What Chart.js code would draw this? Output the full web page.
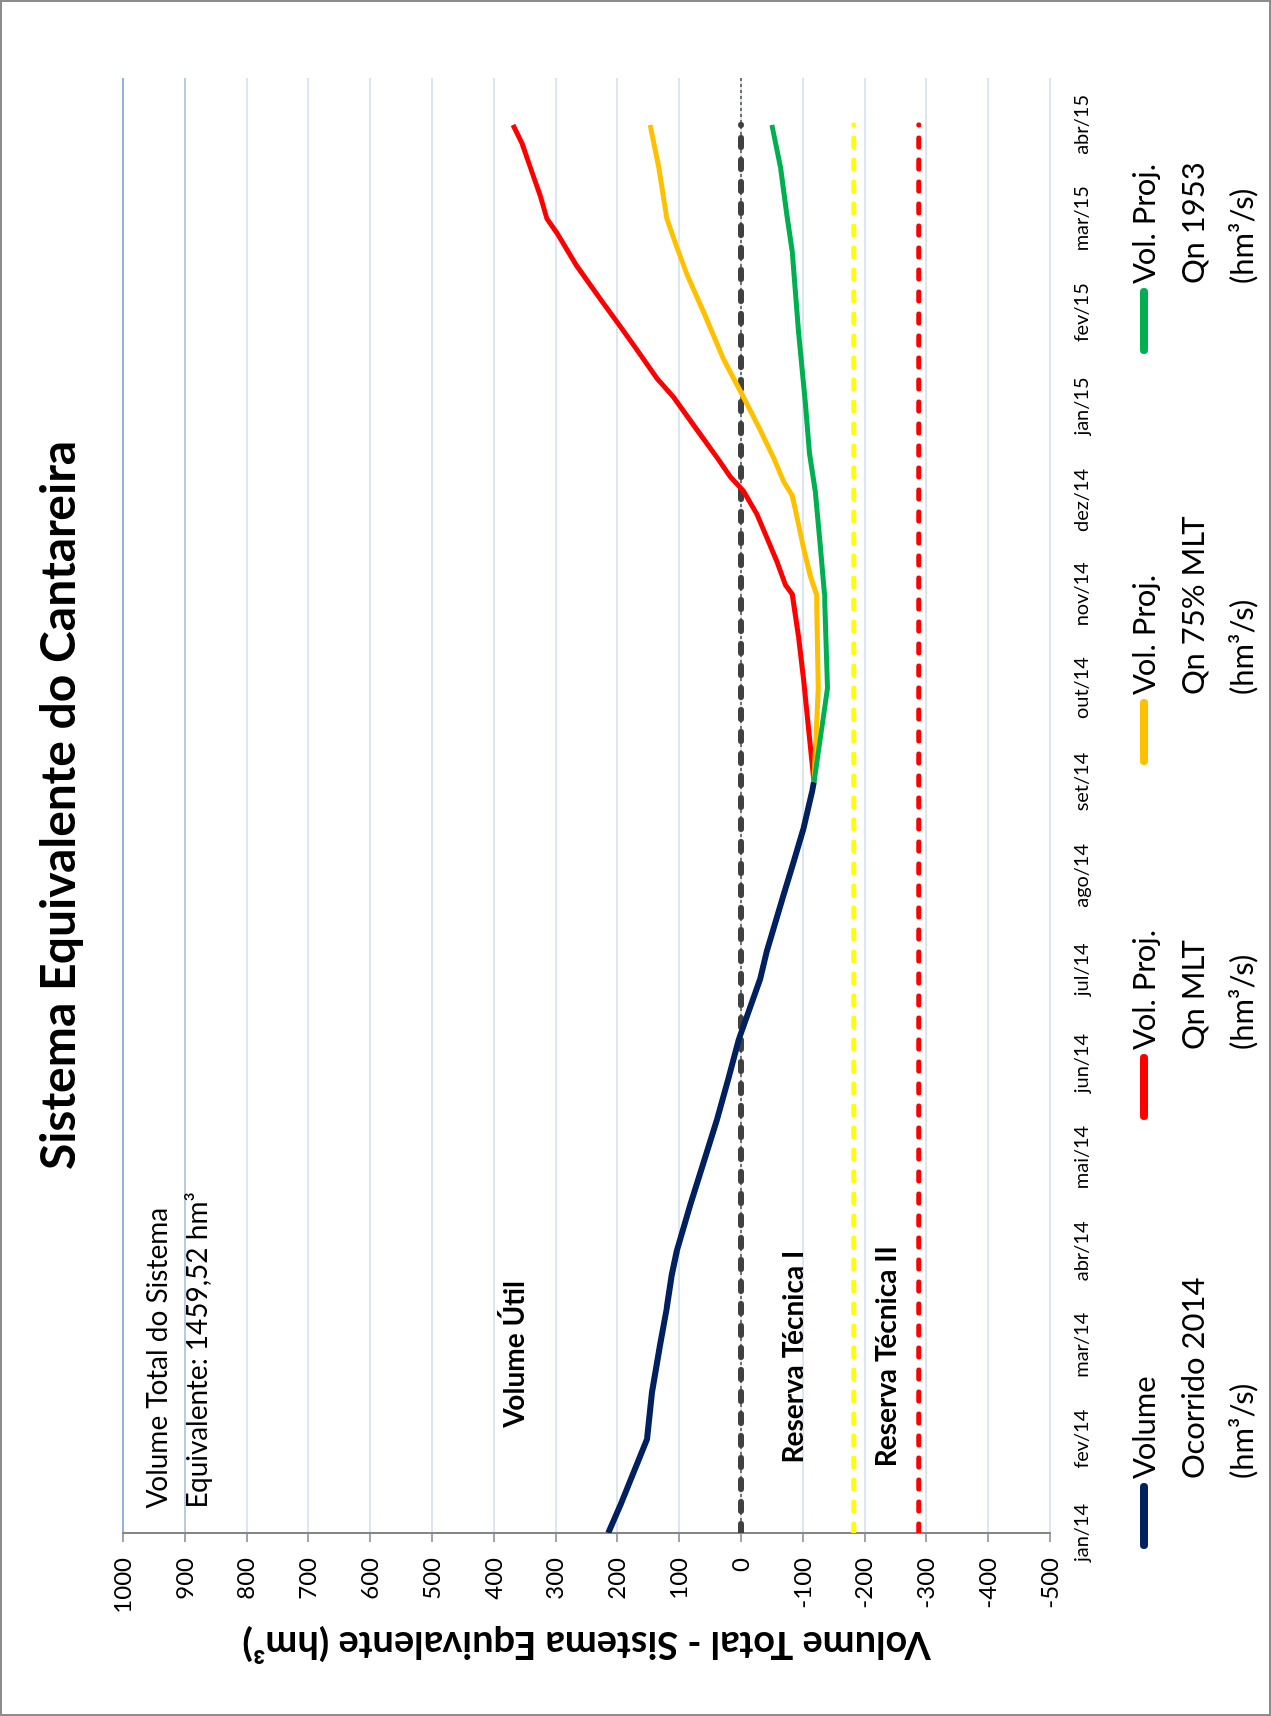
<!DOCTYPE html>
<html lang="pt-BR">
<head>
<meta charset="utf-8">
<title>Sistema Equivalente do Cantareira</title>
<script src="https://cdn.jsdelivr.net/npm/chart.js@4.4.1/dist/chart.umd.min.js"></script>
<style>
    html, body { margin: 0; padding: 0; background: #fff; }
    body { width: 1271px; height: 1716px; overflow: hidden; position: relative; }
    /* o grafico e montado "deitado" e girado 90 graus, como no original */
    #quadro {
        position: absolute; left: 0; top: 0;
        width: 1716px; height: 1271px;
        transform-origin: 0 0;
        transform: translate(0, 1716px) rotate(-90deg);
        background: #fff;
    }
    #grafico { position: absolute; left: 0; top: 0; }
    #borda { position: absolute; left: 0; top: 0; right: 0; bottom: 0; border: 2px solid #8c8c8c; pointer-events: none; }
    .item { position: absolute; top: 1119px; font-family: Lato, "Open Sans", sans-serif; font-size: 31px; line-height: 49px; color: #000; }
    .marca { position: absolute; left: 0; top: 21px; width: 66px; height: 8px; border-radius: 4px; }
    .texto { position: absolute; left: 70px; top: 0; white-space: nowrap; }
</style>
</head>
<body>
<div id="quadro">
    <canvas id="grafico" width="1716" height="1271"></canvas>
    <div id="legenda"></div>
    <div id="borda"></div>
</div>

<script>
// --- Dados ---
const meses = ['jan/14', 'fev/14', 'mar/14', 'abr/14', 'mai/14', 'jun/14', 'jul/14', 'ago/14',
    'set/14', 'out/14', 'nov/14', 'dez/14', 'jan/15', 'fev/15', 'mar/15', 'abr/15'];

// posicao em meses contados a partir de jan/14 e volume em hm3
const ocorridoMes = [0, 0.3, 1, 1.5, 2, 2.4, 2.75, 3, 3.5, 4, 4.4, 4.85, 5.25, 5.4, 5.9, 6.2, 6.8, 7.15, 7.5, 7.9, 8];
const ocorridoVol = [215, 195, 152, 144, 131, 120, 112, 104, 82, 58, 39, 20, 4, -4, -31, -42, -69, -85, -101, -115, -118];

const mltMes = [8, 8.6, 9.1, 9.55, 10, 10.1, 10.35, 10.6, 10.85, 11.1, 11.25, 11.45, 11.75, 12.1, 12.3, 12.6, 12.85, 13.15, 13.5, 13.85, 14, 14.25, 14.55, 14.8, 15];
const mltVol = [-118, -109, -101, -93, -83, -72, -58, -42, -26, -4, 17, 38, 71, 109, 136, 168, 195, 228, 266, 298, 314, 325, 341, 354, 369];

const mlt75Mes = [8, 9, 10, 10.2, 10.5, 10.9, 11.05, 11.2, 11.45, 11.75, 12.1, 12.5, 13, 13.4, 13.7, 14, 14.55, 15];
const mlt75Vol = [-118, -125, -122, -112, -101, -88, -83, -69, -53, -31, -4, 28, 60, 87, 104, 120, 133, 147];

const qn1953Mes = [8, 8.45, 9, 10, 10.55, 11.1, 11.5, 12.05, 12.8, 13.65, 14.05, 14.55, 15];
const qn1953Vol = [-118, -128, -140, -135, -128, -120, -111, -104, -93, -83, -74, -64, -50];

const limiteVolumeUtil = 0;
const reservaTecnica1 = -182.5;
const reservaTecnica2 = -287.5;

const rotulosLegenda = [
    ['Volume', 'Ocorrido 2014', '(hm³/s)'],
    ['Vol. Proj.', 'Qn MLT', '(hm³/s)'],
    ['Vol. Proj.', 'Qn 75% MLT', '(hm³/s)'],
    ['Vol. Proj.', 'Qn 1953', '(hm³/s)']
];

// --- Montagem ---
function pontos(xs, ys) {
    return xs.map((x, i) => ({ x: x, y: ys[i] }));
}
function horizontal(valor, fim) {
    return pontos([0, fim], [valor, valor]);
}

const fonte = 'Lato, "Open Sans", sans-serif';
const tracejado = [9, 13];

const datasets = [
    { label: rotulosLegenda[3].join(' '), data: pontos(qn1953Mes, qn1953Vol), borderColor: '#00b050', borderWidth: 5, order: 1 },
    { label: rotulosLegenda[2].join(' '), data: pontos(mlt75Mes, mlt75Vol), borderColor: '#ffc000', borderWidth: 5, order: 2 },
    { label: rotulosLegenda[1].join(' '), data: pontos(mltMes, mltVol), borderColor: '#ff0000', borderWidth: 5, order: 3 },
    { label: rotulosLegenda[0].join(' '), data: pontos(ocorridoMes, ocorridoVol), borderColor: '#002060', borderWidth: 6, order: 4 },
    { label: 'zero', data: horizontal(limiteVolumeUtil, 15), borderColor: '#404040', borderWidth: 6, borderDash: tracejado, borderCapStyle: 'round', order: 5 },
    { label: 'rt1', data: horizontal(reservaTecnica1, 15), borderColor: '#ffff00', borderWidth: 5, borderDash: tracejado, borderCapStyle: 'round', order: 6 },
    { label: 'rt2', data: horizontal(reservaTecnica2, 15), borderColor: '#ff0000', borderWidth: 5, borderDash: tracejado, borderCapStyle: 'round', order: 7 },
    { label: 'eixo', data: horizontal(0, 15.5), borderColor: '#000000', borderWidth: 1, borderDash: [3, 3], order: 8 }
];
datasets.forEach(d => { d.pointRadius = 0; d.fill = false; d.tension = 0; });

// titulo centrado sobre a area do grafico e textos internos
const textosPlugin = {
    id: 'textos',
    afterDraw(chart, args, opts) {
        const c = chart.ctx;
        const area = chart.chartArea;
        const x = chart.scales.x;
        const y = chart.scales.y;
        c.save();
        c.fillStyle = '#000';
        c.textBaseline = 'middle';
        c.textAlign = 'center';
        c.font = 'bold 48px ' + fonte;
        c.fillText(opts.titulo, (area.left + area.right) / 2, 60);
        c.textAlign = 'left';
        opts.notas.forEach(n => {
            c.font = (n.negrito ? 'bold ' : '') + n.tamanho + 'px ' + fonte;
            c.fillText(n.texto, x.getPixelForValue(n.mes), y.getPixelForValue(n.valor));
        });
        c.restore();
    }
};

const larguraEixoY = 167;

new Chart(document.getElementById('grafico').getContext('2d'), {
    type: 'line',
    data: { datasets: datasets },
    plugins: [textosPlugin],
    options: {
        responsive: false,
        animation: false,
        devicePixelRatio: 1,
        layout: { padding: { left: 16, top: 123, right: 78, bottom: 161 } },
        plugins: {
            legend: { display: false },
            tooltip: { enabled: false },
            textos: {
                titulo: 'Sistema Equivalente do Cantareira',
                notas: [
                    { texto: 'Volume Total do Sistema', mes: 0.26, valor: 944, tamanho: 28, negrito: false },
                    { texto: 'Equivalente: 1459,52 hm³', mes: 0.26, valor: 878, tamanho: 28, negrito: false },
                    { texto: 'Volume Útil', mes: 1.12, valor: 365, tamanho: 28, negrito: true },
                    { texto: 'Reserva Técnica I', mes: 0.74, valor: -85, tamanho: 28, negrito: true },
                    { texto: 'Reserva Técnica II', mes: 0.70, valor: -237, tamanho: 28, negrito: true }
                ]
            }
        },
        scales: {
            x: {
                type: 'linear',
                min: 0,
                max: 15.5,
                grid: { display: false, drawTicks: false, tickLength: 0 },
                border: { display: false },
                ticks: {
                    stepSize: 1,
                    autoSkip: false,
                    maxRotation: 0,
                    includeBounds: false,
                    padding: 20,
                    color: '#000',
                    font: { family: '"Liberation Sans Narrow", ' + fonte, size: 20 },
                    callback: v => Number.isInteger(v) ? (meses[v] || '') : ''
                },
                afterFit: s => { s.height = 60; }
            },
            y: {
                min: -500,
                max: 1000,
                ticks: {
                    stepSize: 100,
                    padding: 16,
                    color: '#000',
                    font: { family: fonte, size: 24 },
                    callback: v => String(v)
                },
                grid: {
                    color: ctx => ctx.tick && ctx.tick.value === 1000 ? '#8eb4e3' : (ctx.tick && ctx.tick.value === 900 ? '#b7cbe9' : '#dce6f2'),
                    lineWidth: 2,
                    tickColor: '#868686',
                    tickLength: 9,
                    tickWidth: 1.5
                },
                border: { color: '#868686', width: 2 },
                title: {
                    display: true,
                    text: 'Volume Total - Sistema Equivalente (hm³)',
                    color: '#000',
                    font: { family: fonte, size: 38, weight: 'bold' },
                    padding: { top: 33, bottom: 0 }
                },
                afterFit: s => { s.width = larguraEixoY; }
            }
        }
    }
});

// --- Legenda em HTML (texto em tres linhas como no original) ---
const coresLegenda = ['#002060', '#ff0000', '#ffc000', '#00b050'];
const posLegenda = [167, 596, 951, 1362];
const legenda = document.getElementById('legenda');
rotulosLegenda.forEach((linhas, i) => {
    const item = document.createElement('div');
    item.className = 'item';
    item.style.left = posLegenda[i] + 'px';
    const marca = document.createElement('div');
    marca.className = 'marca';
    marca.style.background = coresLegenda[i];
    const texto = document.createElement('div');
    texto.className = 'texto';
    texto.innerHTML = linhas.join('<br>');
    item.appendChild(marca);
    item.appendChild(texto);
    legenda.appendChild(item);
});
</script>
</body>
</html>
